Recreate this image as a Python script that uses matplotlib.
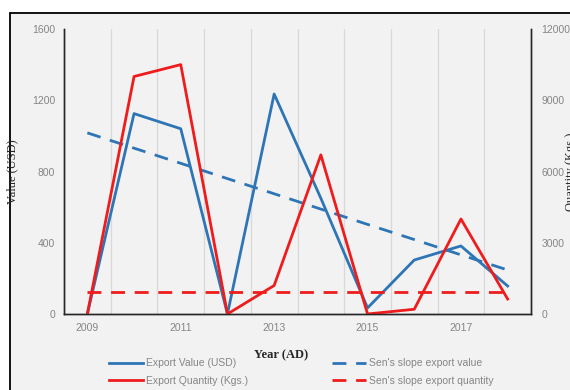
import matplotlib.pyplot as plt
import matplotlib.patches as patches

years = [2009, 2010, 2011, 2012, 2013, 2014, 2015, 2016, 2017, 2018]
export_value = [0, 1125, 1040, 0, 1235, 650, 34, 303, 382, 157]
export_qty = [0, 10000, 10500, 0, 1200, 6700, 0, 200, 4000, 630]
sen_value = [1017, 931, 846, 760, 675, 589, 503, 418, 332, 247]
sen_qty = [925] * 10

blue = '#2e75b6'
red = '#ee1c1c'
bg = '#f2f2f2'
tick_col = '#858585'

plt.rcParams['font.family'] = ['Liberation Sans', 'DejaVu Sans']

fig = plt.figure(figsize=(5.7, 3.9), dpi=100, facecolor='white')

# grey panel with a black frame behind everything
frame = patches.Rectangle((10 / 570, -0.1), 1.0, (390 - 13) / 390 + 0.1,
                          transform=fig.transFigure, facecolor=bg,
                          edgecolor='black', lw=1.3, zorder=-10)
fig.patches.append(frame)

ax = fig.add_axes([64 / 570, 76 / 390, 467 / 570, 285 / 390])
ax.set_facecolor('none')
ax2 = ax.twinx()
ax2.set_facecolor('none')

x = list(range(len(years)))

l1, = ax.plot(x, export_value, color=blue, lw=2.0, label='Export Value (USD)')
l3, = ax.plot(x, sen_value, color=blue, lw=2.0, ls=(0, (5, 3.5)),
              label="Sen's slope export value")
l2, = ax2.plot(x, export_qty, color=red, lw=2.0, label='Export Quantity (Kgs.)')
l4, = ax2.plot(x, sen_qty, color=red, lw=2.0, ls=(0, (5, 3.5)),
               label="Sen's slope export quantity")

ax.set_xlim(-0.5, 9.5)
ax.set_ylim(0, 1600)
ax2.set_ylim(0, 12000)
ax.set_yticks([0, 400, 800, 1200, 1600])
ax2.set_yticks([0, 3000, 6000, 9000, 12000])
ax.set_xticks(x[::2])
ax.set_xticklabels([str(y) for y in years[::2]])
ax.set_xticks([i + 0.5 for i in range(9)], minor=True)
ax.grid(True, which='minor', axis='x', color='#d9d9d9', lw=0.9)
ax.tick_params(which='both', length=0)
ax.tick_params(axis='x', pad=6.5, labelsize=7.5, labelcolor=tick_col)
ax.tick_params(axis='y', pad=6.5, labelsize=7.5, labelcolor=tick_col)
ax2.tick_params(length=0, pad=7.5, labelsize=7.5, labelcolor=tick_col)

for a in (ax, ax2):
    a.spines['top'].set_visible(False)
    for s in ('left', 'right', 'bottom'):
        a.spines[s].set_color('#262626')
        a.spines[s].set_linewidth(1.0)

serif = {'family': 'Liberation Serif', 'size': 9, 'color': '#262626'}
ax.set_ylabel('Value (USD)', fontdict=serif)
ax.yaxis.set_label_coords((18 - 64) / 467, 0.5)
ax2.set_ylabel('Quantity (Kgs.)', fontdict=serif, rotation=90)
ax2.yaxis.set_label_coords((565 - 64) / 467, 0.5)
fig.text(281 / 570, 1 - 355 / 390, 'Year (AD)', ha='center', va='center',
         family='Liberation Serif', fontsize=9, fontweight='bold', color='#262626')

leg_kw = dict(frameon=False, fontsize=7.5, handlelength=3.2, handletextpad=0.3,
              labelspacing=0.7, labelcolor=tick_col, borderpad=0)
fig.legend([l1, l2], [l1.get_label(), l2.get_label()], loc='upper left',
           bbox_to_anchor=(104 / 570, 1 - 353 / 390), **leg_kw)
fig.legend([l3, l4], [l3.get_label(), l4.get_label()], loc='upper left',
           bbox_to_anchor=(327 / 570, 1 - 353 / 390), **leg_kw)

fig.savefig('out.png', dpi=100, facecolor='white')
